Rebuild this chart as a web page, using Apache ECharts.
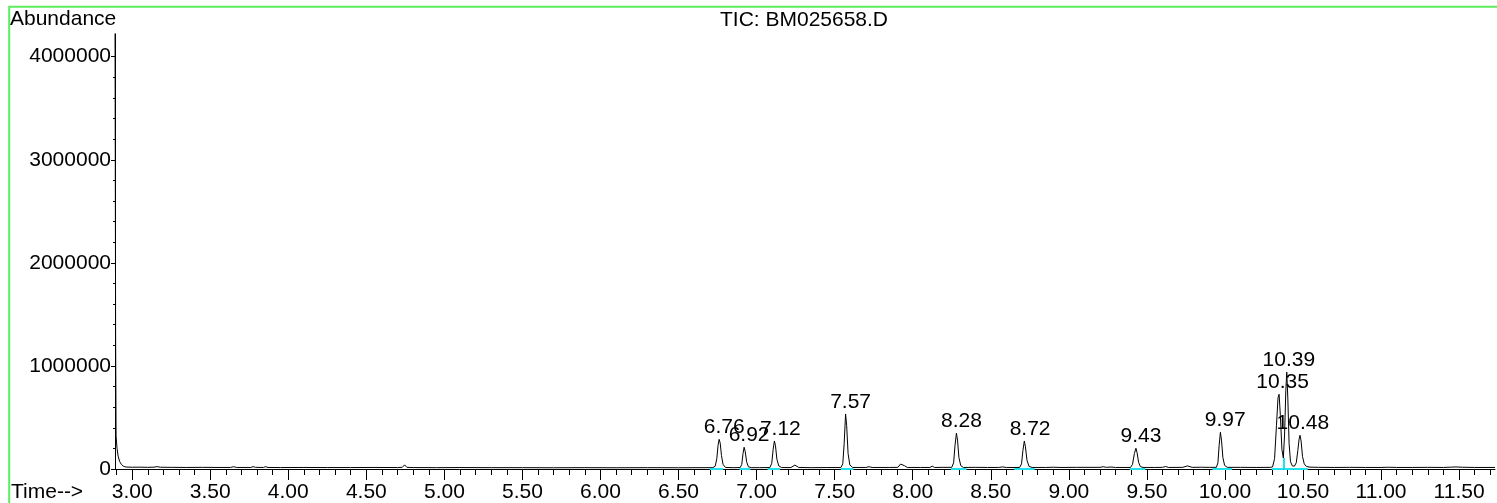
<!DOCTYPE html>
<html>
<head>
	<meta http-equiv="Content-Type" content="text/html;charset=utf-8">
	<title>TIC: BM025658.D</title>
	<script src="https://cdn.jsdelivr.net/npm/echarts@6.0.0/dist/echarts.min.js"></script>
	<style>
		html, body{
			margin: 0;
			padding: 0;
			background: #fff;
		}
		#chart{
			width: 1497px;
			height: 503px;
		}
	</style>
</head>

<body>
<div id="chart"></div>

<script>
	// TIC trace, [retention time (min), abundance]
	var tic = [
		[2.890, 4400000], [2.894, 1300000], [2.897, 320000], [2.903, 200000], [2.910, 125000], [2.920, 72000],
		[2.932, 42000], [2.945, 26000], [2.960, 19000],
		[3.00, 17000], [3.05, 18000], [3.10, 16000], [3.14, 18000], [3.16, 23000], [3.18, 17000], [3.25, 16000],
		[3.35, 15000], [3.45, 16000], [3.55, 15000], [3.63, 15000], [3.65, 22000], [3.67, 15000], [3.76, 15000],
		[3.775, 23000], [3.79, 16000], [3.84, 15000], [3.855, 22000], [3.87, 15000], [3.95, 14000], [4.10, 15000],
		[4.25, 14000], [4.40, 14000], [4.55, 15000], [4.70, 14000], [4.73, 16000], [4.745, 40000], [4.76, 16000],
		[4.80, 14000], [4.95, 13000], [5.10, 14000], [5.30, 13000], [5.50, 13000], [5.70, 12000], [5.90, 13000],
		[6.10, 12000], [6.30, 13000], [6.50, 12000], [6.65, 13000], [6.72, 13000],
		[6.735, 28000], [6.745, 100000], [6.753, 230000], [6.760, 288000], [6.767, 250000], [6.775, 130000],
		[6.785, 45000], [6.800, 15000], [6.85, 13000],
		[6.895, 14000], [6.905, 45000], [6.913, 150000], [6.920, 211000], [6.927, 170000], [6.936, 70000],
		[6.947, 22000], [6.965, 13000], [7.02, 13000],
		[7.085, 14000], [7.097, 55000], [7.106, 190000], [7.114, 272000], [7.121, 225000], [7.130, 95000],
		[7.142, 30000], [7.160, 14000], [7.22, 14000], [7.245, 38000], [7.27, 15000], [7.35, 13000], [7.45, 14000],
		[7.54, 14000], [7.552, 50000], [7.561, 250000], [7.570, 534000], [7.577, 420000], [7.586, 150000],
		[7.597, 40000], [7.615, 15000], [7.70, 15000], [7.72, 22000], [7.74, 15000], [7.85, 15000],
		[7.905, 16000], [7.922, 48000], [7.933, 65000], [7.947, 32000], [7.965, 15000], [8.05, 15000],
		[8.11, 15000], [8.125, 27000], [8.14, 15000], [8.20, 16000], [8.250, 16000],
		[8.262, 60000], [8.271, 230000], [8.280, 347000], [8.287, 280000], [8.296, 110000], [8.308, 32000],
		[8.325, 15000], [8.40, 16000], [8.48, 15000], [8.55, 15000], [8.575, 20000], [8.60, 15000], [8.685, 15000],
		[8.697, 50000], [8.706, 180000], [8.715, 272000], [8.722, 215000], [8.732, 85000], [8.745, 25000],
		[8.765, 15000], [8.85, 15000], [8.90, 17000], [8.95, 15000], [9.05, 16000], [9.20, 16000], [9.22, 22000],
		[9.24, 16000], [9.27, 19000], [9.30, 15000], [9.395, 15000],
		[9.408, 45000], [9.420, 150000], [9.430, 201000], [9.437, 160000], [9.447, 65000], [9.458, 24000],
		[9.475, 15000], [9.55, 15000], [9.60, 16000], [9.62, 24000], [9.64, 15000], [9.73, 16000], [9.76, 30000],
		[9.79, 16000], [9.85, 17000], [9.90, 16000], [9.945, 16000],
		[9.955, 60000], [9.963, 230000], [9.971, 356000], [9.978, 280000], [9.987, 110000], [9.998, 35000],
		[10.015, 16000], [10.10, 16000], [10.20, 15000], [10.29, 16000], [10.305, 20000],
		[10.318, 100000], [10.330, 420000], [10.340, 690000], [10.347, 725000], [10.355, 520000], [10.365, 190000],
		[10.374, 107000], [10.382, 330000], [10.390, 760000], [10.396, 940000], [10.403, 680000], [10.411, 250000],
		[10.420, 70000], [10.432, 30000], [10.445, 28000], [10.457, 60000], [10.467, 180000], [10.475, 290000],
		[10.481, 327000], [10.488, 270000], [10.497, 120000], [10.508, 50000], [10.522, 24000], [10.545, 18000],
		[10.60, 16000], [10.70, 15000], [10.80, 16000], [10.90, 15000], [11.00, 15000], [11.05, 17000],
		[11.10, 15000], [11.20, 15000], [11.30, 16000], [11.40, 15000], [11.45, 18000], [11.48, 20000],
		[11.52, 17000], [11.60, 15000], [11.73, 15000]
	];

	// integrated peaks: label time and apex height
	var peakTimes   = [6.76, 6.92, 7.12, 7.57, 8.28, 8.72, 9.43, 9.97, 10.35, 10.39, 10.48];
	var peakHeights = [288000, 211000, 272000, 534000, 347000, 272000, 201000, 356000, 725000, 940000, 327000];

	// integration baselines (cyan)
	var baseStart = [6.70, 6.89, 7.07, 7.54, 8.245, 8.65, 9.39, 9.92, 10.30, 10.375, 10.44];
	var baseEnd   = [6.785, 6.96, 7.15, 7.62, 8.345, 8.78, 9.49, 10.045, 10.375, 10.44, 10.53];
	var splitTimes   = [10.375];
	var splitHeights = [107000];

	// axis ticks
	var xMajor = [3.0, 3.5, 4.0, 4.5, 5.0, 5.5, 6.0, 6.5, 7.0, 7.5, 8.0, 8.5, 9.0, 9.5, 10.0, 10.5, 11.0, 11.5];
	var xMinor = [2.9, 3.0, 3.1, 3.2, 3.3, 3.4, 3.5, 3.6, 3.7, 3.8, 3.9, 4.0, 4.1, 4.2, 4.3, 4.4, 4.5, 4.6, 4.7, 4.8, 4.9,
		5.0, 5.1, 5.2, 5.3, 5.4, 5.5, 5.6, 5.7, 5.8, 5.9, 6.0, 6.1, 6.2, 6.3, 6.4, 6.5, 6.6, 6.7, 6.8, 6.9,
		7.0, 7.1, 7.2, 7.3, 7.4, 7.5, 7.6, 7.7, 7.8, 7.9, 8.0, 8.1, 8.2, 8.3, 8.4, 8.5, 8.6, 8.7, 8.8, 8.9,
		9.0, 9.1, 9.2, 9.3, 9.4, 9.5, 9.6, 9.7, 9.8, 9.9, 10.0, 10.1, 10.2, 10.3, 10.4, 10.5, 10.6, 10.7,
		10.8, 10.9, 11.0, 11.1, 11.2, 11.3, 11.4, 11.5, 11.6, 11.7];
	var yMajor = [0, 1000000, 2000000, 3000000, 4000000];
	var yMinor = [200000, 400000, 600000, 800000, 1200000, 1400000, 1600000, 1800000, 2200000, 2400000, 2600000,
		2800000, 3200000, 3400000, 3600000, 3800000];

	var FONT = 'Liberation Sans';
	var FS = 21;
	var CYAN = '#1ee3ee';

	var segs = [];
	for (var i = 0; i < baseStart.length; i++) {
		segs.push({coords: [[baseStart[i], 4000], [baseEnd[i], 4000]]});
	}
	for (var j = 0; j < splitTimes.length; j++) {
		segs.push({coords: [[splitTimes[j], 0], [splitTimes[j], splitHeights[j]]]});
	}

	var peaks = [];
	for (var k = 0; k < peakTimes.length; k++) {
		var txt = peakTimes[k].toFixed(2);
		peaks.push({
			value: [peakTimes[k], peakHeights[k]],
			label: {offset: [txt.length > 4 ? 3 : 5, 0]}
		});
	}

	var option = {
		animation: false,
		grid: {left: 115, right: 2, top: 34, bottom: 34, outerBoundsMode: 'none'},
		graphic: [
			{type: 'rect', shape: {x: 9.2, y: 6.7, width: 1600, height: 700},
				style: {fill: 'none', stroke: '#5ced5c', lineWidth: 2}, z: 0},
			{type: 'text', x: 10, y: 19,
				style: {text: 'Abundance', font: FS + 'px "' + FONT + '"', fill: '#000', textVerticalAlign: 'middle'}},
			{type: 'text', x: 804, y: 20,
				style: {text: 'TIC: BM025658.D', font: FS + 'px "' + FONT + '"', fill: '#000',
					textAlign: 'center', textVerticalAlign: 'middle'}},
			{type: 'text', x: 11, y: 492,
				style: {text: 'Time-->', font: FS + 'px "' + FONT + '"', fill: '#000', textVerticalAlign: 'middle'}}
		],
		xAxis: [{
			type: 'value', min: 2.89, max: 11.73,
			axisLine: {show: true, lineStyle: {color: '#000', width: 1}},
			axisTick: {show: true, customValues: xMajor, length: 11, lineStyle: {color: '#000'}},
			axisLabel: {customValues: xMajor, margin: 13, fontSize: FS, fontFamily: FONT, color: '#000',
				formatter: function (v) { return v.toFixed(2); }},
			splitLine: {show: false}
		}, {
			type: 'value', min: 2.89, max: 11.73, position: 'bottom',
			axisLine: {show: false},
			axisTick: {show: true, customValues: xMinor, length: 6, lineStyle: {color: '#000'}},
			axisLabel: {show: false},
			splitLine: {show: false}
		}],
		yAxis: [{
			type: 'value', min: 0, max: 4220000,
			axisLine: {show: true, lineStyle: {color: '#000', width: 1}},
			axisTick: {show: true, customValues: yMajor, length: 4, lineStyle: {color: '#000'}},
			axisLabel: {customValues: yMajor, margin: 4, fontSize: FS, fontFamily: FONT, color: '#000',
				formatter: function (v) { return String(v); }},
			splitLine: {show: false}
		}, {
			type: 'value', min: 0, max: 4220000, position: 'left',
			axisLine: {show: false},
			axisTick: {show: true, customValues: yMinor, length: 2, lineStyle: {color: '#000'}},
			axisLabel: {show: false},
			splitLine: {show: false}
		}],
		series: [
			{
				name: 'TIC',
				type: 'line',
				data: tic,
				symbol: 'none',
				lineStyle: {color: '#000', width: 1},
				z: 2
			},
			{
				name: 'baseline',
				type: 'lines',
				coordinateSystem: 'cartesian2d',
				data: segs,
				lineStyle: {color: CYAN, width: 2, opacity: 1},
				z: 3
			},
			{
				name: 'peaks',
				type: 'scatter',
				data: peaks,
				symbolSize: 1,
				itemStyle: {color: 'rgba(0,0,0,0)'},
				label: {
					show: true,
					position: 'top',
					distance: 1,
					fontSize: FS,
					fontFamily: FONT,
					color: '#000',
					opacity: 1,
					textBorderWidth: 0,
					formatter: function (p) { return p.value[0].toFixed(2); }
				},
				z: 4
			}
		]
	};

	var myChart = echarts.init(document.getElementById('chart'));
	myChart.setOption(option);
</script>
</body>
</html>
